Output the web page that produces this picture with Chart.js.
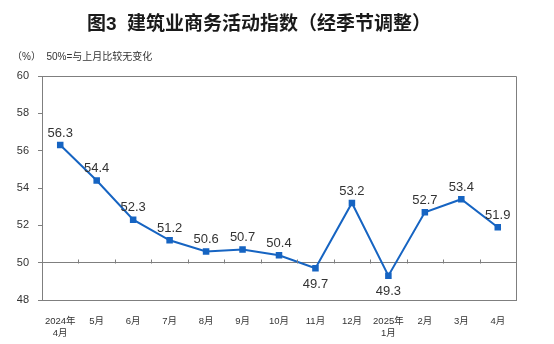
<!DOCTYPE html>
<html>
<head>
<meta charset="utf-8">
<script src="https://cdn.jsdelivr.net/npm/chart.js@4/dist/chart.umd.min.js"></script>
<style>
  html, body { margin: 0; padding: 0; background: #fff; }
  #wrap { width: 554px; height: 344px; position: relative; }
</style>
</head>
<body>
<div id="wrap"><canvas id="chart"></canvas></div>
<script>
// 建筑业商务活动指数（经季节调整）
const months = [['2024年', '4月'], '5月', '6月', '7月', '8月', '9月', '10月', '11月', '12月', ['2025年', '1月'], '2月', '3月', '4月'];
const index = [56.3, 54.4, 52.3, 51.2, 50.6, 50.7, 50.4, 49.7, 53.2, 49.3, 52.7, 53.4, 51.9];
const yTicks = [48, 50, 52, 54, 56, 58, 60];
const baseLine = 50;

const titleText = '图3  建筑业商务活动指数（经季节调整）';
const unitText = '（%）  50%=与上月比较无变化';

const font = '"Liberation Sans", Arial, "Noto Sans CJK SC", sans-serif';
const axisGray = '#7f7f7f';
const blue = '#1664c2';

// title, unit note, frame, ticks on the 50 line and point labels
const decor = {
  id: 'decor',
  afterDraw(chart) {
    const ctx = chart.ctx;
    const a = chart.chartArea;
    const x = chart.scales.x, y = chart.scales.y;
    ctx.save();

    ctx.fillStyle = '#1a1a1a';
    ctx.font = 'bold 19px ' + font;
    ctx.textAlign = 'center';
    ctx.textBaseline = 'middle';
    ctx.fillText(titleText, 259, 25);

    ctx.fillStyle = '#333';
    ctx.font = '10px ' + font;
    ctx.textAlign = 'left';
    ctx.fillText(unitText, 12, 57);

    // frame (top and right)
    ctx.strokeStyle = axisGray;
    ctx.lineWidth = 1;
    ctx.beginPath();
    ctx.moveTo(a.left, a.top + 0.5);
    ctx.lineTo(a.right + 0.5, a.top + 0.5);
    ctx.lineTo(a.right + 0.5, a.bottom);
    ctx.stroke();

    // small upward ticks between months on the 50 line
    const y50 = Math.round(y.getPixelForValue(baseLine)) + 0.5;
    const step = x.getPixelForValue(1) - x.getPixelForValue(0);
    ctx.beginPath();
    for (let i = 1; i < months.length; i++) {
      const px = Math.round(x.getPixelForValue(i) - step / 2) + 0.5;
      ctx.moveTo(px, y50);
      ctx.lineTo(px, y50 - 4);
    }
    ctx.stroke();

    // value labels
    ctx.fillStyle = '#333';
    ctx.font = '13px ' + font;
    ctx.textAlign = 'center';
    const meta = chart.getDatasetMeta(0);
    meta.data.forEach((pt, i) => {
      const v = index[i];
      const dy = v < baseLine ? 16 : -12;
      ctx.fillText(v.toFixed(1), pt.x, pt.y + dy);
    });
    ctx.restore();
  }
};

new Chart(document.getElementById('chart'), {
  type: 'line',
  data: {
    labels: months,
    datasets: [{
      data: index,
      borderColor: blue,
      backgroundColor: blue,
      borderWidth: 2,
      pointStyle: 'rect',
      pointRadius: 3.2,
      pointHoverRadius: 3.2,
      tension: 0,
      fill: false
    }]
  },
  options: {
    responsive: true,
    maintainAspectRatio: false,
    animation: false,
    devicePixelRatio: 1,
    layout: { padding: { top: 76, right: 38, left: 0, bottom: 0 } },
    plugins: {
      legend: { display: false },
      tooltip: { enabled: false },
      title: { display: false }
    },
    scales: {
      x: {
        offset: true,
        grid: { display: false },
        border: { color: axisGray, width: 1 },
        ticks: {
          color: '#333',
          font: { family: font, size: 9.5 },
          maxRotation: 0,
          autoSkip: false,
          padding: 8
        },
        afterFit(scale) { scale.height = 44; }
      },
      y: {
        min: 48,
        max: 60,
        afterBuildTicks(scale) { scale.ticks = yTicks.map(v => ({ value: v })); },
        grid: {
          drawOnChartArea: true,
          color: ctx => ctx.tick && ctx.tick.value === baseLine ? axisGray : 'rgba(0,0,0,0)',
          tickColor: axisGray,
          tickLength: 4
        },
        border: { color: axisGray, width: 1 },
        ticks: {
          color: '#333',
          font: { family: font, size: 11 },
          padding: 9
        },
        afterFit(scale) { scale.width = 42; }
      }
    }
  },
  plugins: [decor]
});
</script>
</body>
</html>
